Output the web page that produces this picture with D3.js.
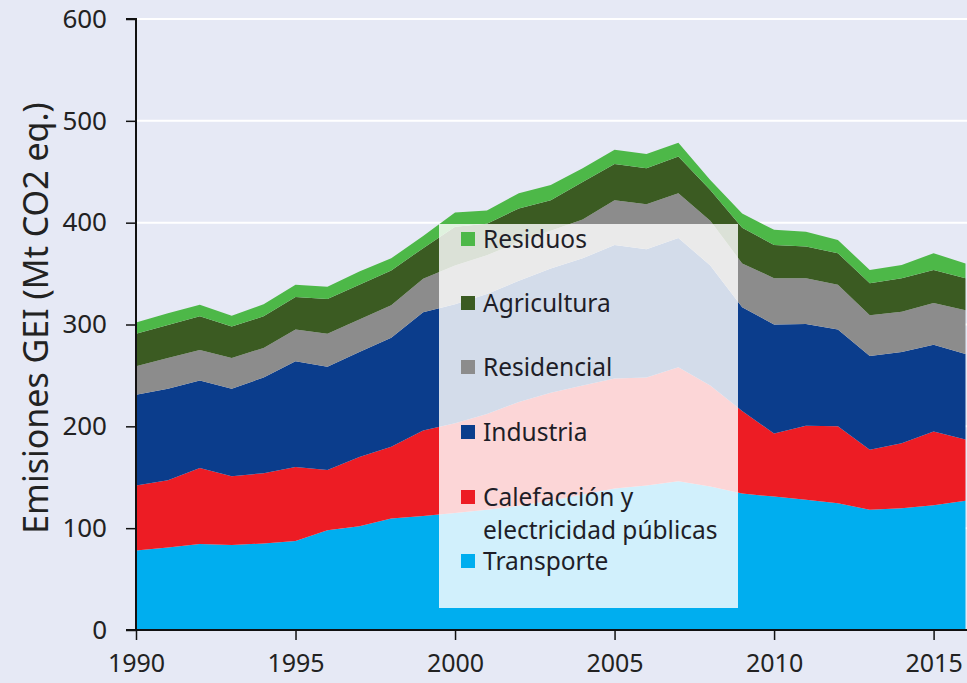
<!DOCTYPE html>
<html>
<head>
<meta charset="utf-8">
<script src="https://cdn.jsdelivr.net/npm/d3@7/dist/d3.min.js"></script>
<style>
  html, body { margin: 0; padding: 0; background: #E6E9F5; }
  svg { display: block; }
  text { font-family: "Noto Sans", "Open Sans", sans-serif; }
</style>
</head>
<body>
<svg id="chart" width="967" height="683"></svg>
<script>
// ---- Data (Mt CO2 eq.) ----
const years = [1990,1991,1992,1993,1994,1995,1996,1997,1998,1999,2000,2001,2002,2003,2004,2005,2006,2007,2008,2009,2010,2011,2012,2013,2014,2015,2016];
const transporte   = [78, 81, 84.5, 83.5, 85, 87.5, 98, 102, 109.5, 112, 115, 118, 122, 127, 133, 139, 142, 146, 141, 134, 131, 128, 124.5, 118, 119.5, 122.5, 127];
const calefaccion  = [64, 66, 74.5, 67.5, 69, 72.5, 59, 68, 70.5, 84, 88, 94, 102, 106, 107, 108, 106, 112, 99, 81, 62, 72.5, 75.5, 59, 64, 72.5, 60];
const industria    = [89, 90, 86, 86, 94, 104, 101.5, 103, 107, 116, 117, 118, 119, 122, 125, 131, 126, 127, 118, 102, 107, 100, 95, 92, 89.5, 85, 84];
const residencial  = [28, 30, 30, 30, 29, 31, 32.5, 32, 32, 33, 38, 38, 38, 37, 38, 44, 44, 44, 44, 43, 45.5, 45, 44, 40, 39.5, 41, 43];
const agricultura  = [32, 32.5, 33, 31, 31, 32, 34, 34, 34, 30, 38, 31, 33, 30, 37, 35.5, 35.5, 36, 30, 35, 32.5, 31, 31, 31.5, 33, 32.5, 31.5];
const residuos     = [11, 11.5, 11.5, 10.5, 12, 12, 12, 13, 12, 12, 14, 13, 15, 15, 13.5, 14, 14, 13.5, 10, 14, 15, 14.5, 13, 13, 13, 16.5, 14.5];

const seriesNames  = ["Transporte", "Calefacción y electricidad públicas", "Industria", "Residencial", "Agricultura", "Residuos"];
const seriesColors = ["#00AEEF", "#ED1C24", "#0B3D8C", "#8C8C8C", "#3B5B22", "#4DB848"];
const legendLabels = [["Residuos"], ["Agricultura"], ["Residencial"], ["Industria"], ["Calefacción y", "electricidad públicas"], ["Transporte"]];
const yTicks = [0, 100, 200, 300, 400, 500, 600];
const xTicks = [1990, 1995, 2000, 2005, 2010, 2015];
const yTitle = "Emisiones GEI (Mt CO2 eq.)";

// ---- Build table ----
const seriesArrays = [transporte, calefaccion, industria, residencial, agricultura, residuos];
const keys = seriesNames;
const table = years.map((yr, i) => {
  const row = { year: yr };
  keys.forEach((k, j) => row[k] = seriesArrays[j][i]);
  return row;
});

const svg = d3.select("#chart");
const W = 967, H = 683;
const mLeft = 136, mRight = 965.5, mTop = 19, mBottom = 630;

const x = d3.scaleLinear().domain([1990, 2016]).range([mLeft, mRight]);
const y = d3.scaleLinear().domain([0, 600]).range([mBottom, mTop]);

svg.append("rect").attr("width", W).attr("height", H).attr("fill", "#E6E9F5");

// gridlines
svg.append("g").selectAll("line").data(yTicks.filter(d => d > 0)).join("line")
  .attr("x1", mLeft).attr("x2", W).attr("y1", d => y(d)).attr("y2", d => y(d))
  .attr("stroke", "#ffffff").attr("stroke-width", 2);

// stacked areas
const stacked = d3.stack().keys(keys)(table);
const area = d3.area()
  .x(d => x(d.data.year))
  .y0(d => y(d[0]))
  .y1(d => y(d[1]));

svg.append("g").selectAll("path").data(stacked).join("path")
  .attr("d", area)
  .attr("fill", (d, i) => seriesColors[i]);

// axes
const yAxis = d3.axisLeft(y).tickValues(yTicks).tickSize(10).tickPadding(19);
const gy = svg.append("g").attr("transform", `translate(${mLeft},0)`).call(yAxis);
gy.select(".domain").attr("stroke", "#111").attr("stroke-width", 2).attr("d", `M-10,${mTop}H0V${mBottom}H-10`);
gy.selectAll(".tick line").attr("stroke", "#111").attr("stroke-width", 1.5);
gy.selectAll(".tick text").attr("font-size", 26).attr("fill", "#222").attr("font-family", "Noto Sans, sans-serif");

const xAxis = d3.axisBottom(x).tickValues(xTicks).tickFormat(d3.format("d")).tickSize(10).tickPadding(14);
const gx = svg.append("g").attr("transform", `translate(0,${mBottom})`).call(xAxis);
gx.select(".domain").attr("stroke", "#111").attr("stroke-width", 2).attr("d", `M${mLeft},0H${W}`);
gx.selectAll(".tick line").attr("stroke", "#111").attr("stroke-width", 1.5);
gx.selectAll(".tick text").attr("font-size", 25).attr("fill", "#222").attr("font-family", "Noto Sans, sans-serif");

// y title
svg.append("text")
  .attr("transform", `translate(48,${318}) rotate(-90)`)
  .attr("text-anchor", "middle")
  .attr("font-size", 34)
  .attr("fill", "#222")
  .text(yTitle);

// legend
const lg = svg.append("g");
lg.append("rect").attr("x", 439).attr("y", 224).attr("width", 299).attr("height", 384)
  .attr("fill", "#ffffff").attr("fill-opacity", 0.82);
const legendColors = seriesColors.slice().reverse();
const rowY = [239, 303, 367, 432, 497, 561];
legendLabels.forEach((lines, i) => {
  lg.append("rect").attr("x", 461).attr("y", rowY[i] - 7).attr("width", 14).attr("height", 14)
    .attr("fill", legendColors[i]);
  lines.forEach((t, k) => {
    lg.append("text").attr("x", 483).attr("y", rowY[i] + k * 33)
      .attr("dy", "0.35em").attr("font-size", 24.5).attr("fill", "#1e1e28").text(t);
  });
});
</script>
</body>
</html>
